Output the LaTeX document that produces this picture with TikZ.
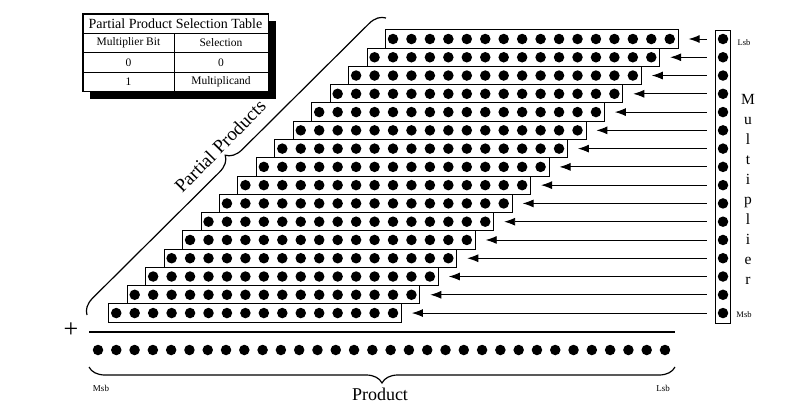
\documentclass[tikz,border=0pt]{standalone}
\usepackage{fontspec}
\setmainfont{Liberation Serif}
\usetikzlibrary{arrows.meta,decorations.pathreplacing,calc}
\begin{document}
\begin{tikzpicture}[x=1pt,y=-1pt,
  dot/.style={circle,fill=black,inner sep=0pt,minimum size=10.5pt},
  rowbox/.style={draw,line width=0.9pt,minimum width=292.75pt,minimum height=18.27pt,inner sep=0pt},
  arr/.style={line width=0.9pt,-{Latex[length=11pt,width=8pt]}},
  brc/.style={decorate,line width=1.2pt,decoration={brace,amplitude=#1}},
  cell/.style={draw,fill=white,inner sep=0pt,minimum height=19.3pt,line width=0.8pt},
  small/.style={font=\fontsize{8.5}{9}\selectfont},
  letter/.style={anchor=base,font=\fontsize{15.5}{15}\selectfont}
]
\useasboundingbox (0,0) rectangle (793,407);
\fill[white] (0,0) rectangle (793,407);

% selection table with shadow
\fill[black] (90,21) rectangle (276,99);
\node[cell,minimum width=185pt,font=\fontsize{14}{14}\selectfont] (th) at (175.5,23.65) {Partial Product Selection Table};
\node[cell,minimum width=91pt,font=\fontsize{11.5}{12}\selectfont] (c11) at (128.5,42.95) {Multiplier Bit};
\node[cell,minimum width=94pt,font=\fontsize{11.5}{12}\selectfont] (c12) at (221,42.95) {Selection};
\node[cell,minimum width=91pt,font=\fontsize{11.5}{12}\selectfont] (c21) at (128.5,62.25) {0};
\node[cell,minimum width=94pt,font=\fontsize{11.5}{12}\selectfont] (c22) at (221,62.25) {0};
\node[cell,minimum width=91pt,font=\fontsize{11.5}{12}\selectfont] (c31) at (128.5,81.55) {1};
\node[cell,minimum width=94pt,font=\fontsize{11.5}{12}\selectfont] (c32) at (221,81.55) {Multiplicand};
\draw[line width=1.2pt] (th.north west) rectangle (c32.south east);

% multiplier column
\node[draw,line width=0.9pt,minimum width=15pt,minimum height=293pt,inner sep=0pt] (mbox) at (722.5,176.5) {};

% partial product rows, multiplier bits and arrows
\foreach \i in {1,...,16}{
  \pgfmathsetmacro\yy{39+(\i-1)*18.27}
  \pgfmathsetmacro\xl{385-(\i-1)*18.45}
  \node[rowbox,anchor=west] (r\i) at (\xl,\yy) {};
  \foreach \k in {0,...,15}{
    \node[dot] (r\i d\k) at (\xl+8+\k*18.45,\yy) {};
  }
  \node[dot] (m\i) at (723,\yy) {};
  \draw[arr] ($(mbox.west |- r\i.east)+(-8,0)$) -- ($(r\i.east)+(10,0)$);
}

\node[small] (mlsb) at (744,43) {Lsb};
\node[small] (mmsb) at (744,315) {Msb};
\foreach \c [count=\j from 0] in {M,u,l,t,i,p,l,i,e,r}{
  \node[letter] (ml\j) at (748,104+\j*20.1) {\c};
}

% partial products brace and label
\coordinate (pbA) at (87,315);
\coordinate (pbB) at (386,18);
\draw[brc=16] (pbA) -- (pbB);
\node[rotate=45.5,font=\fontsize{19}{19}\selectfont] (pptext) at (220,146) {Partial Products};

% sum line and product
\node[font=\fontsize{26}{26}\selectfont] (plus) at (71,330) {+};
\coordinate (ruleL) at (89,332);
\coordinate (ruleR) at (675,332);
\draw[line width=1.3pt] (ruleL) -- (ruleR);
\foreach \k in {0,...,31}{
  \node[dot] (p\k) at (98+\k*18.29,350) {};
}
\coordinate (bL) at (89,367);
\coordinate (bR) at (675,367);
\draw[brc=16] (bR) -- (bL);
\node[font=\fontsize{18}{18}\selectfont] (prod) at (380,394) {Product};
\node[font=\fontsize{9}{9}\selectfont] (pmsb) at (101,388) {Msb};
\node[font=\fontsize{9}{9}\selectfont] (plsb) at (663,388) {Lsb};
\end{tikzpicture}
\end{document}
